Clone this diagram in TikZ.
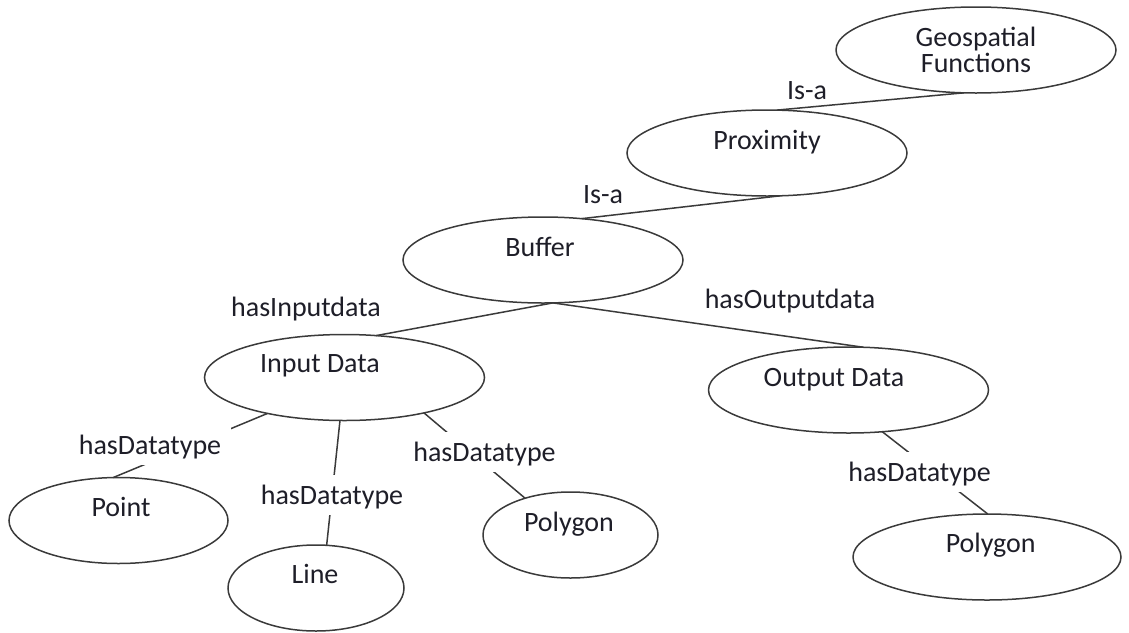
\documentclass[tikz,border=0pt]{standalone}
\usepackage{fontspec}
\setmainfont{Carlito}
\usetikzlibrary{shapes.geometric}
\definecolor{edge}{HTML}{3A3A3A}
\definecolor{ink}{HTML}{1E1E28}

\begin{document}
\begin{tikzpicture}[x=0.5pt,y=-0.5pt,
  concept/.style={ellipse,draw=edge,line width=0.75pt,inner sep=0pt,outer sep=0pt,minimum width=140pt,minimum height=43pt},
  txt/.style={font=\fontsize{14}{13}\selectfont,text=ink,text height=9pt,text depth=0pt,inner sep=0pt},
  tag/.style={txt},
  rel/.style={txt,fill=white,inner xsep=5pt,minimum height=20pt},
  link/.style={draw=edge,line width=0.75pt}]
\useasboundingbox (0,0) rectangle (1129,632);
% concepts
\node[concept,align=center,font=\fontsize{14}{13}\selectfont,text=ink] (geo) at (976,50) {Geospatial\\Functions};
\node[concept,label={[txt,yshift=6.5pt]center:Proximity}] (prox) at (767,153) {};
\node[concept,label={[txt,xshift=-1.5pt,yshift=6.5pt]center:Buffer}] (buf) at (543,260) {};
\node[concept,label={[txt,xshift=-12.25pt,yshift=7.25pt]center:Input Data}] (indata) at (344.5,377.5) {};
\node[concept,label={[txt,xshift=-7.25pt,yshift=6.5pt]center:Output Data}] (outdata) at (848.5,390) {};
\node[concept,minimum width=109.5pt,label={[txt,xshift=1.25pt,yshift=6.75pt]center:Point}] (pt) at (118.5,520.5) {};
\node[concept,minimum width=88pt,label={[txt,xshift=-0.5pt,yshift=7pt]center:Line}] (ln) at (316,588) {};
\node[concept,minimum width=87.5pt,label={[txt,xshift=-0.75pt,yshift=6.5pt]center:Polygon}] (polyA) at (570.5,535) {};
\node[concept,minimum width=134pt,label={[txt,xshift=1.85pt,yshift=7pt]center:Polygon}] (polyB) at (987,557) {};
% relations
\draw[link] (geo.-106) -- (prox.77);
\draw[link] (prox.-73) -- (buf.47);
\draw[link] (buf.-77) -- (indata.53);
\draw[link] (buf.-77) -- (outdata.71);
\draw[link] (indata.-155) -- (pt.97);
\draw[link] (indata.-96) -- (ln.76);
\draw[link] (indata.-24) -- (polyA.141);
\draw[link] (outdata.-51) -- (polyB.89);
% relation names
\node[tag] (isaA) at (807,90) {Is-a};
\node[tag] (isaB) at (603,194) {Is-a};
\node[tag] (hasin) at (306,307) {hasInputdata};
\node[tag] (hasout) at (790,299) {hasOutputdata};
\node[rel] (dtA) at (150,445) {hasDatatype};
\node[rel] (dtB) at (332,495) {hasDatatype};
\node[rel] (dtC) at (484.5,452) {hasDatatype};
\node[rel] (dtD) at (919.5,472) {hasDatatype};
\end{tikzpicture}
\end{document}
